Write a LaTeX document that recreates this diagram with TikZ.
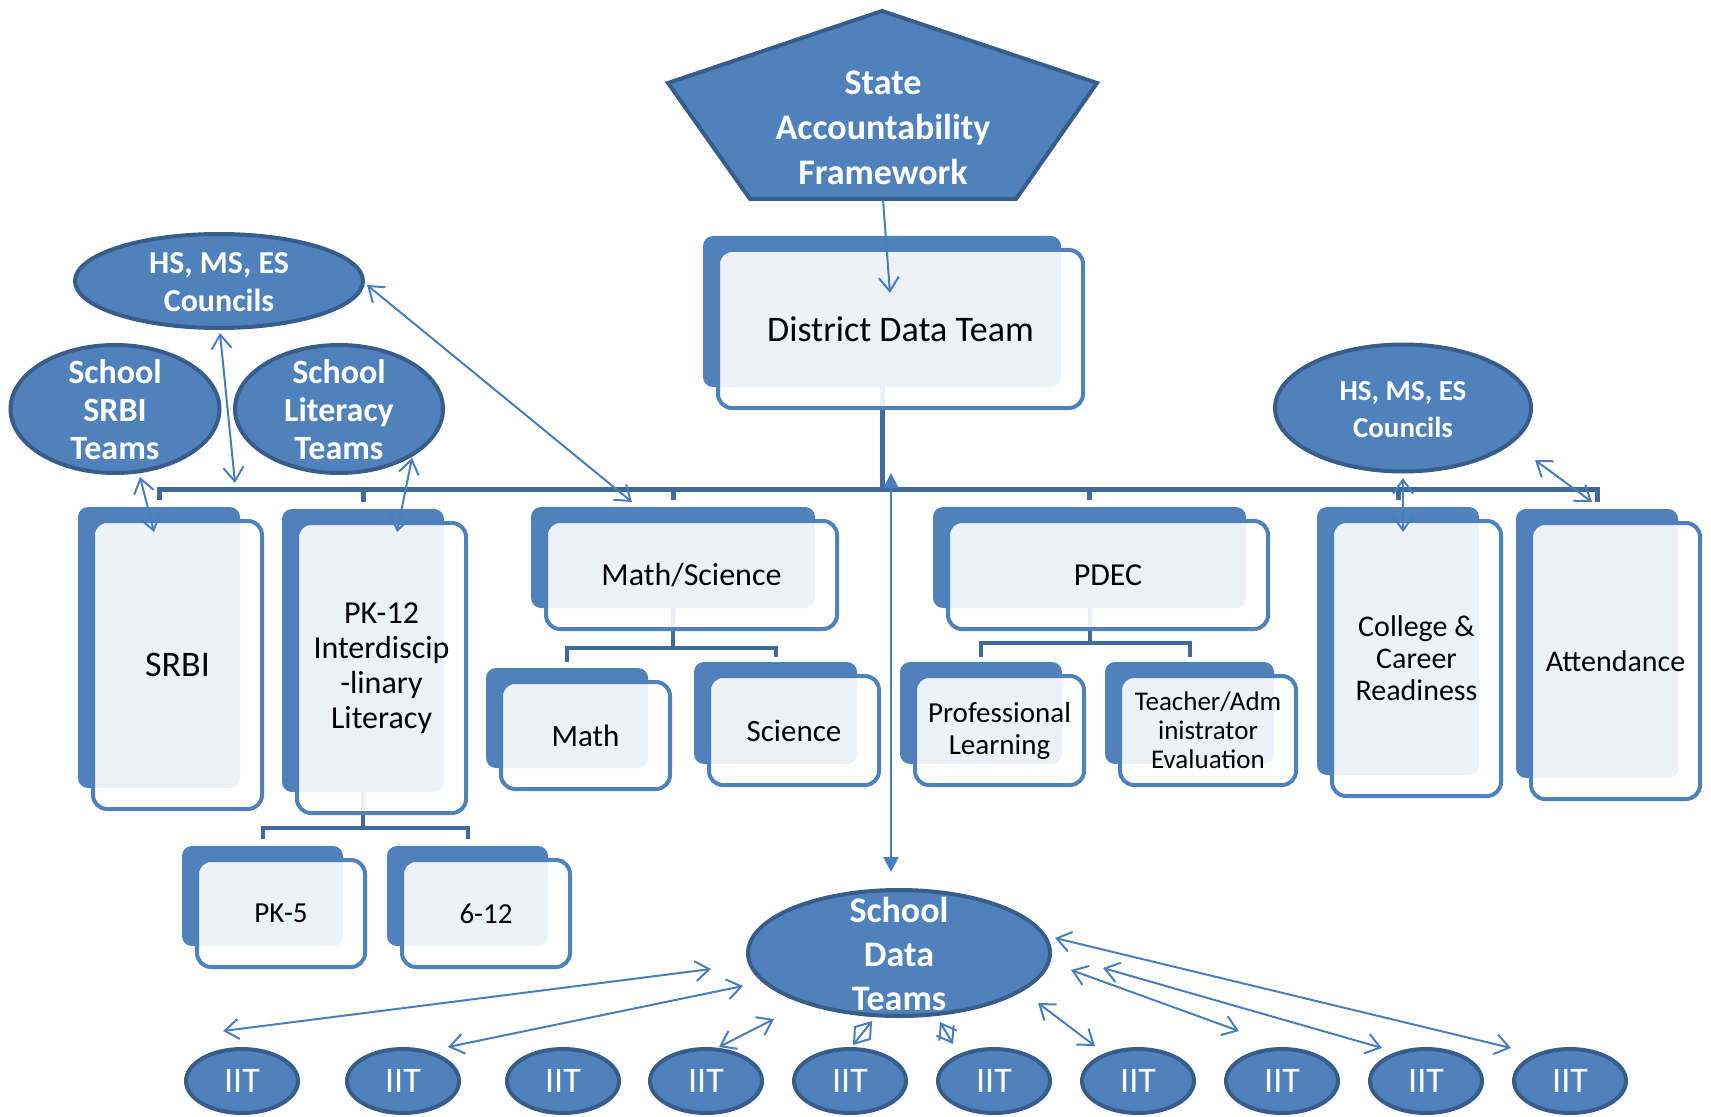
\documentclass[tikz,border=0pt]{standalone}
\usepackage{fontspec}
\setmainfont{Carlito}
\usetikzlibrary{arrows.meta,shapes.geometric}
\pgfdeclarelayer{background}
\pgfsetlayers{background,main}
\definecolor{accblue}{HTML}{4F81BD}
\definecolor{edgeblue}{HTML}{385D8A}
\definecolor{linkblue}{HTML}{4A7EBB}
\definecolor{trunkblue}{HTML}{416A9C}
\tikzset{
  backbox/.style={fill=accblue, draw=none, rounded corners=5pt, inner sep=0pt, outer sep=0pt},
  frontbox/.style={fill=white, fill opacity=0.9, text opacity=1, draw=accblue, line width=2pt,
                   rounded corners=7pt, inner sep=0pt, outer sep=0pt, align=center, text=black},
  blob/.style={ellipse, fill=accblue, draw=edgeblue, line width=2pt, inner sep=0pt},
  blobtext/.style={text=white, align=center, inner sep=0pt},
  trunk/.style={draw=trunkblue, line width=2.5pt},
  branch/.style={draw=trunkblue, line width=2pt},
  link/.style={draw=linkblue, line width=1pt, >={Straight Barb[length=7pt,width=10pt]}},
  bold/.style={draw=linkblue, line width=1pt, >={Triangle[length=7.5pt,width=7.5pt]}}
}
\newcommand{\twobox}[7]{%
  \pgfmathsetmacro{\tbw}{(#4-#2)*0.5}%
  \pgfmathsetmacro{\tbh}{(#5-#3)*0.5}%
  \pgfmathsetmacro{\tbx}{(#2+#4)/2}%
  \pgfmathsetmacro{\tby}{(#3+#5)/2}%
  \node[backbox, minimum width={\tbw pt}, minimum height={\tbh pt}] (#1-b) at (\tbx,\tby) {};
  \node[frontbox, minimum width={\tbw pt+3.5pt}, minimum height={\tbh pt+3.5pt}, font=#6] (#1) at (\tbx+18.5,\tby+17.5) {#7};
}
\begin{document}
\begin{tikzpicture}[x=0.5pt, y=-0.5pt]
\useasboundingbox (0,0) rectangle (1711,1117);

% State Accountability Framework (pentagon)
\draw[fill=accblue, draw=edgeblue, line width=2pt, line join=miter]
  (882,11) -- (1097,83) -- (1016,199) -- (750,199) -- (668,83) -- cycle;
\node[blobtext, font=\bfseries\fontsize{18}{22.5}\selectfont] (saf) at (883,128) {State\\Accountability\\Framework};
\coordinate (saf-bot) at (883,200);

% boxes
\twobox{dist}{703}{236}{1061}{387}{\fontsize{18}{22}\selectfont}{District Data Team}
\twobox{srbi}{78}{507}{240}{788}{\fontsize{18}{22}\selectfont}{SRBI}
\twobox{pk}{282}{509}{444}{792}{\fontsize{16}{17.5}\selectfont}{PK-12\\Interdiscip\\-linary\\Literacy}
\twobox{ms}{531}{507}{815}{608}{\fontsize{16}{19}\selectfont}{Math/Science}
\twobox{pdec}{933}{507}{1246}{608}{\fontsize{16}{19}\selectfont}{PDEC}
\twobox{ccr}{1317}{507}{1479}{775}{\fontsize{15}{16}\selectfont}{College \&\\Career\\Readiness}
\twobox{att}{1516}{509}{1678}{778}{\fontsize{15}{18}\selectfont}{Attendance}
\twobox{pkfive}{182}{846}{343}{946}{\fontsize{14.5}{17}\selectfont}{PK-5}
\twobox{six}{387}{846}{548}{946}{\fontsize{14.5}{17}\selectfont}{6-12}
\twobox{math}{486}{668}{648}{768}{\fontsize{15.5}{18}\selectfont}{Math}
\twobox{sci}{694}{662}{857}{764}{\fontsize{15.5}{18}\selectfont}{Science}
\twobox{pl}{900}{662}{1062}{764}{\fontsize{14.5}{16}\selectfont}{Professional\\Learning}
\twobox{ta}{1105}{662}{1274}{764}{\fontsize{13.5}{14.5}\selectfont}{Teacher/Adm\\inistrator\\Evaluation}

% ellipses
\node[blob, minimum width=144pt, minimum height=47pt] (lc) at (219,281) {};
\node[blobtext, font=\bfseries\fontsize{16}{19}\selectfont] (lc-t) at (219,282) {HS, MS, ES\\Councils};
\node[blob, minimum width=104.5pt, minimum height=64pt] (ssrbi) at (115,409) {};
\node[blobtext, font=\bfseries\fontsize{17}{19}\selectfont] (ssrbi-t) at (115,410) {School\\SRBI\\Teams};
\node[blob, minimum width=104pt, minimum height=64pt] (slit) at (339,409) {};
\node[blobtext, font=\bfseries\fontsize{17}{19}\selectfont] (slit-t) at (339,410) {School\\Literacy\\Teams};
\node[blob, minimum width=128pt, minimum height=63.5pt] (rc) at (1403,408) {};
\node[blobtext, font=\bfseries\fontsize{14.5}{18.5}\selectfont] (rc-t) at (1403,410) {HS, MS, ES\\Councils};
\node[blob, minimum width=151pt, minimum height=63pt] (sdt) at (899,953) {};
\node[blobtext, font=\bfseries\fontsize{18}{22}\selectfont] (sdt-t) at (899,954) {School\\Data\\Teams};

\foreach \i/\x in {1/242,2/403,3/563,4/706,5/850,6/994,7/1138,8/1282,9/1426,10/1570}{
  \node[blob, minimum width=56pt, minimum height=32pt, text=white, font=\fontsize{18}{18}\selectfont] (iit\i) at (\x,1081) {IIT};
}

% tree connectors, under the boxes
\begin{pgfonlayer}{background}
\path (dist-b.south) ++(0,102) coordinate (bus);
\draw[trunk] (dist-b.south) -- (bus);
\draw[trunk] ([yshift=3.5pt]srbi-b.north) |- (bus) -| ([yshift=3.5pt]att-b.north);
\foreach \n in {pk,ms,pdec,ccr}{
  \draw[trunk] (bus -| \n-b.north) -- ([yshift=3.5pt]\n-b.north);
}
\path (pk-b.south) ++(0,36) coordinate (pkbus);
\draw[branch] (pk-b.south) -- (pkbus);
\draw[branch] ([yshift=3.5pt]pkfive-b.north) |- (pkbus) -| ([yshift=3.5pt]six-b.north);
\path (ms-b.south) ++(0,40) coordinate (msbus);
\draw[branch] (ms-b.south) -- (msbus);
\draw[branch] ([yshift=3pt]math-b.north) |- (msbus) -| ([yshift=2.5pt]sci-b.north);
\path (pdec-b.south) ++(0,35) coordinate (pdbus);
\draw[branch] (pdec-b.south) -- (pdbus);
\draw[branch] ([yshift=2.5pt]pl-b.north) |- (pdbus) -| ([yshift=2.5pt]ta-b.north);
\end{pgfonlayer}

% arrow end points
\coordinate (dist-in) at (890,293);
\coordinate (a1s) at (140,477); \coordinate (a1e) at (154,532);
\coordinate (a2s) at (220,333); \coordinate (a2e) at (235,483);
\coordinate (a3s) at (412,458); \coordinate (a3e) at (397,532);
\coordinate (a4s) at (367,285); \coordinate (a4e) at (632,502);
\coordinate (a5s) at (1403,478); \coordinate (a5e) at (1403,532);
\coordinate (a6s) at (1535,460); \coordinate (a6e) at (1592,502);
\coordinate (ms-s) at (891,473); \coordinate (ms-e) at (891,872);
\coordinate (b1s) at (711,969);  \coordinate (b1e) at (223,1031);
\coordinate (b2s) at (743,986);  \coordinate (b2e) at (448,1047);
\coordinate (b3s) at (774,1019); \coordinate (b3e) at (719,1047);
\coordinate (b4s) at (872,1021); \coordinate (b4e) at (853,1045);
\coordinate (b5s) at (940,1022); \coordinate (b5e) at (953,1044);
\coordinate (b6s) at (1038,1003); \coordinate (b6e) at (1095,1046);
\coordinate (b7s) at (1071,970); \coordinate (b7e) at (1239,1031);
\coordinate (b8s) at (1103,968); \coordinate (b8e) at (1382,1048);
\coordinate (b9s) at (1055,938); \coordinate (b9e) at (1511,1048);

\draw[link, ->] (saf-bot) -- (dist-in);
\foreach \k in {a1,a2,a3,a4,a5,a6,b1,b2,b3,b4,b5,b6,b7,b8,b9}{
  \draw[link, <->] (\k s) -- (\k e);
}
\draw[bold, <->] (ms-s) -- (ms-e);
\end{tikzpicture}
\end{document}
